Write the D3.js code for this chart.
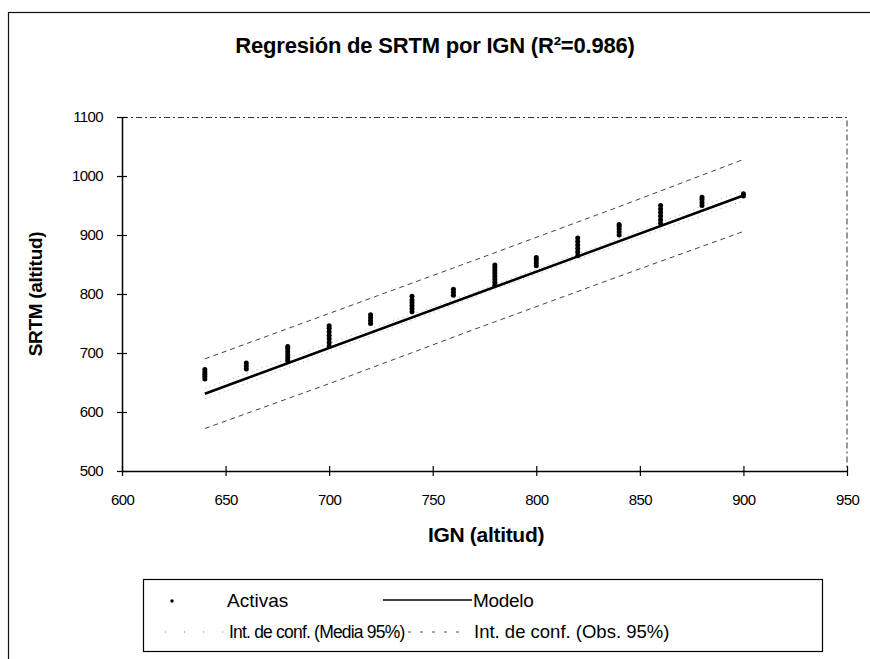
<!DOCTYPE html>
<html>
<head>
<meta charset="utf-8">
<script src="https://cdn.jsdelivr.net/npm/d3@7"></script>
<style>
    body { margin: 0; background: #fff; }
    svg { font-family: "Liberation Sans", Arial, sans-serif; }
</style>
</head>
<body>
<div class="chart"></div>
<script>
// observed points: IGN altitude and SRTM readings at each IGN level
const ignLevels = [640, 660, 680, 700, 720, 740, 760, 780, 800, 820, 840, 860, 880, 900];
const srtmValues = [
    [656, 660, 664, 668, 672],
    [673, 678, 683],
    [687, 692, 697, 702, 707, 711],
    [712, 718, 724, 730, 736, 742, 746],
    [750, 755, 760, 765],
    [770, 775, 780, 785, 790, 796],
    [798, 803, 808],
    [815, 820, 825, 830, 835, 840, 845, 849],
    [848, 853, 858, 862],
    [865, 871, 877, 883, 889, 895],
    [900, 905, 910, 915, 918],
    [920, 926, 932, 938, 944, 950],
    [950, 955, 960, 964],
    [966, 970]
];

// regression model
const modelX = [640, 900];
const modelY = [631, 967];

// confidence intervals
const ciX = [640, 700, 770, 840, 900];
const meanUpper = [640, 716, 803, 894, 976];
const meanLower = [622, 702, 795, 884, 958];
const obsUpper = [690, 767, 857, 948, 1028];
const obsLower = [572, 648, 740, 830, 906];

const xTicks = [600, 650, 700, 750, 800, 850, 900, 950];
const yTicks = [500, 600, 700, 800, 900, 1000, 1100];

const titleText = "Regresión de SRTM por IGN (R²=0.986)";
const xLabel = "IGN (altitud)";
const yLabel = "SRTM (altitud)";
const legendNames = ["Activas", "Modelo", "Int. de conf. (Media 95%)", "Int. de conf. (Obs. 95%)"];

let svg = d3.select(".chart").append("svg").attr("width", 870).attr("height", 659);

let margin = {top: 117, right: 23, bottom: 188, left: 122},
    width = 870 - margin.left - margin.right,
    height = 659 - margin.top - margin.bottom;

// outer chart frame (cut off at right and bottom like the scan)
svg.append("rect")
    .attr("x", 8.5).attr("y", 12.5)
    .attr("width", 870).attr("height", 700)
    .attr("fill", "none").attr("stroke", "#111").attr("stroke-width", 1.2);

svg.append("text")
    .attr("x", 435).attr("y", 53)
    .attr("text-anchor", "middle")
    .attr("font-size", "22px").attr("font-weight", "bold")
    .attr("letter-spacing", "-0.2px")
    .text(titleText);

let g = svg.append("g").attr("transform", "translate(" + margin.left + "," + margin.top + ")");

let x = d3.scaleLinear().domain([600, 950]).range([0, width]);
let y = d3.scaleLinear().domain([500, 1100]).range([height, 0]);

// dashed plot area border (top + right)
g.append("path")
    .attr("d", "M0,0.5H" + width + "V" + height)
    .attr("fill", "none").attr("stroke", "#333")
    .attr("stroke-dasharray", "6,3,2,3");

let line = d3.line()
    .x(function (d) { return x(d[0]); })
    .y(function (d) { return y(d[1]); });

// observation interval
[obsUpper, obsLower].forEach(function (vals) {
    g.append("path")
        .datum(ciX.map(function (v, i) { return [v, vals[i]]; }))
        .attr("d", line)
        .attr("fill", "none").attr("stroke", "#444").attr("stroke-width", 1)
        .attr("stroke-dasharray", "5,4");
});

// mean interval
[meanUpper, meanLower].forEach(function (vals) {
    g.append("path")
        .datum(ciX.map(function (v, i) { return [v, vals[i]]; }))
        .attr("d", line)
        .attr("fill", "none").attr("stroke", "#999").attr("stroke-width", 0.8)
        .attr("stroke-dasharray", "1,4");
});

g.append("path")
    .datum(modelX.map(function (v, i) { return [v, modelY[i]]; }))
    .attr("d", line)
    .attr("fill", "none").attr("stroke", "#000").attr("stroke-width", 2.5);

let points = [];
ignLevels.forEach(function (lvl, i) {
    srtmValues[i].forEach(function (v) { points.push([lvl, v]); });
});

g.selectAll(".pt")
    .data(points)
    .enter().append("circle")
    .attr("class", "pt")
    .attr("r", 2.5)
    .attr("cx", function (d) { return x(d[0]); })
    .attr("cy", function (d) { return y(d[1]); })
    .attr("fill", "#000");

// axes with crossing ticks
let yAxis = g.append("g")
    .call(d3.axisLeft(y).tickValues(yTicks).tickFormat(d3.format("d"))
        .tickSizeInner(5).tickSizeOuter(0).tickPadding(14));
yAxis.selectAll(".tick line").attr("x2", 5).attr("x1", -5);

let xAxis = g.append("g")
    .attr("transform", "translate(0," + height + ")")
    .call(d3.axisBottom(x).tickValues(xTicks).tickFormat(d3.format("d"))
        .tickSizeInner(5).tickSizeOuter(0).tickPadding(18));
xAxis.selectAll(".tick line").attr("y1", -5).attr("y2", 5);

[yAxis, xAxis].forEach(function (ax) {
    ax.select(".domain").attr("stroke", "#000").attr("stroke-width", 1.5);
    ax.selectAll(".tick line").attr("stroke", "#000").attr("stroke-width", 1.2);
    ax.selectAll("text")
        .attr("font-size", "15px").attr("fill", "#000")
        .attr("font-family", "Liberation Sans, Arial, sans-serif")
        .attr("letter-spacing", "-0.6px");
});

svg.append("text")
    .attr("x", 486).attr("y", 542)
    .attr("text-anchor", "middle")
    .attr("font-size", "21px").attr("font-weight", "bold")
    .attr("letter-spacing", "-0.3px")
    .text(xLabel);

svg.append("text")
    .attr("transform", "translate(42,294) rotate(-90)")
    .attr("text-anchor", "middle")
    .attr("font-size", "19px").attr("font-weight", "bold")
    .attr("letter-spacing", "-0.3px")
    .text(yLabel);

// legend
let legend = svg.append("g").attr("class", "legend");
legend.append("rect")
    .attr("x", 143.5).attr("y", 579.5)
    .attr("width", 679).attr("height", 72)
    .attr("fill", "#fff").attr("stroke", "#000").attr("stroke-width", 1.2);

let legendItems = [
    {name: legendNames[0], tx: 227, ty: 607, size: 19, ls: 0},
    {name: legendNames[1], tx: 473, ty: 607, size: 19, ls: -0.3},
    {name: legendNames[2], tx: 229, ty: 638, size: 17.5, ls: -0.8},
    {name: legendNames[3], tx: 474, ty: 638, size: 18.5, ls: 0}
];

legend.selectAll(".legend-text")
    .data(legendItems)
    .enter().append("text")
    .attr("class", "legend-text")
    .attr("x", function (d) { return d.tx; })
    .attr("y", function (d) { return d.ty; })
    .attr("font-size", function (d) { return d.size + "px"; })
    .attr("letter-spacing", function (d) { return d.ls + "px"; })
    .text(function (d) { return d.name; });

legend.append("circle").attr("cx", 172).attr("cy", 601).attr("r", 1.7).attr("fill", "#000");
legend.append("line")
    .attr("x1", 383).attr("x2", 472).attr("y1", 600).attr("y2", 600)
    .attr("stroke", "#000").attr("stroke-width", 1.5);
legend.append("line")
    .attr("x1", 165).attr("x2", 224).attr("y1", 632).attr("y2", 632)
    .attr("stroke", "#777").attr("stroke-width", 1).attr("stroke-dasharray", "1,18");
legend.append("line")
    .attr("x1", 384).attr("x2", 466).attr("y1", 632).attr("y2", 632)
    .attr("stroke", "#555").attr("stroke-width", 1).attr("stroke-dasharray", "3,9");
</script>
</body>
</html>
